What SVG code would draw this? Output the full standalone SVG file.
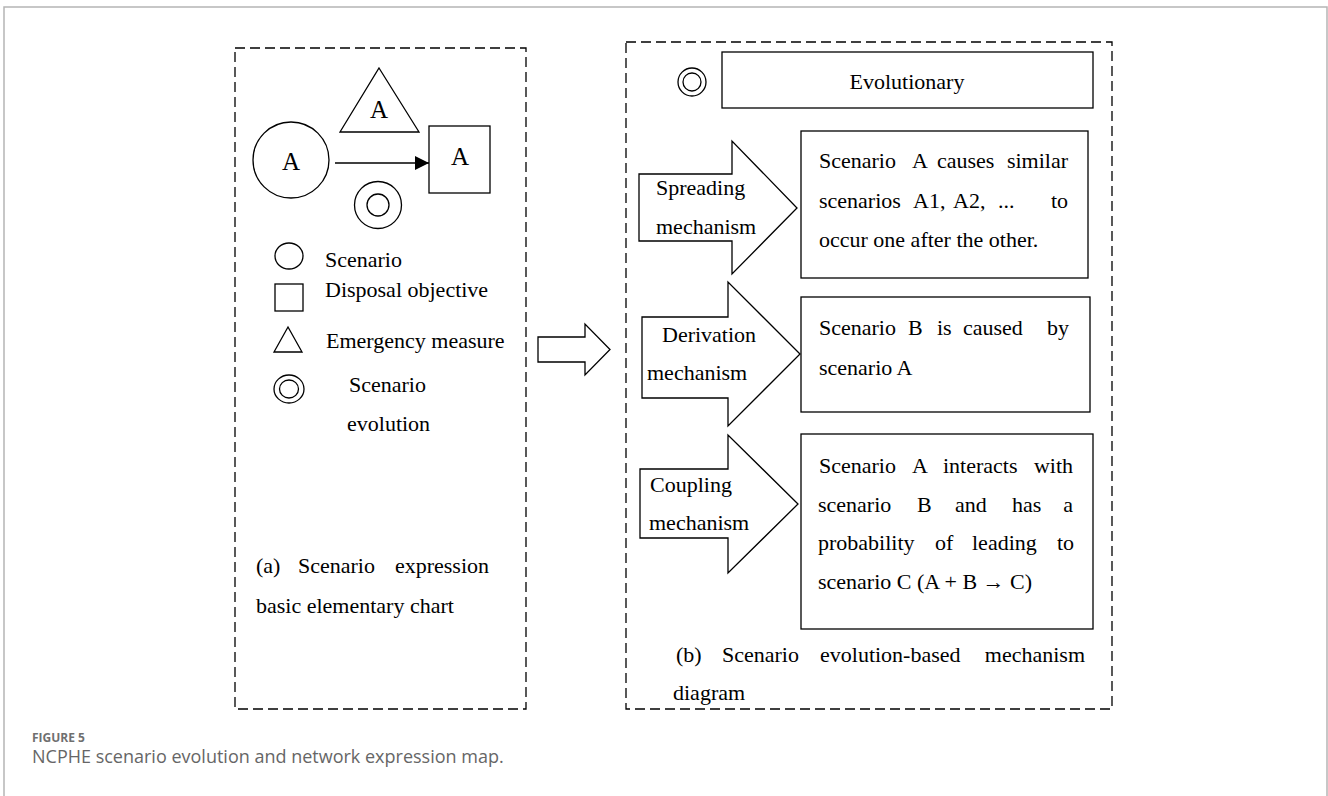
<svg xmlns="http://www.w3.org/2000/svg" width="1328" height="796" viewBox="0 0 1328 796">
  <style>
    .ln { fill: none; stroke: #000; stroke-width: 1.3; }
    .shape { fill: #fff; stroke: #000; stroke-width: 1.3; }
    .dash { fill: none; stroke: #000; stroke-width: 1.3; stroke-dasharray: 10 5; }
    .t { font-family: "Liberation Serif", "Times New Roman", serif; font-size: 22px; fill: #000; }
    .big { font-size: 25px; }
    .mid { text-anchor: middle; }
    .cap1 { font-family: "Open Sans", "Liberation Sans", sans-serif; font-size: 12px; font-weight: 700; fill: #6f6f6f; }
    .cap2 { font-family: "Open Sans", "Liberation Sans", sans-serif; font-size: 18px; fill: #666; }
  </style>
  <defs>
    <marker id="arrowhead" markerWidth="14" markerHeight="14" refX="14" refY="7" orient="auto" markerUnits="userSpaceOnUse">
      <path d="M0,0 L14,7 L0,14 Z" fill="#000"/>
    </marker>
  </defs>

  <rect width="1328" height="796" fill="#fff"/>

  <!-- card frame -->
  <path d="M4,796 V7 H1327 V796" fill="none" stroke="#b5b5b5" stroke-width="1.5"/>

  <!-- panel frames -->
  <rect id="panel-a" class="dash" x="235" y="48" width="291" height="661"/>
  <rect id="panel-b" class="dash" x="626" y="42" width="486" height="667"/>

  <!-- panel (a): elements -->
  <g id="scenario-node">
    <circle class="shape" cx="291" cy="160" r="38"/>
    <text class="t big mid" x="291" y="170">A</text>
  </g>
  <g id="measure-node">
    <polygon class="shape" points="379,68 419,132 340,132"/>
    <text class="t big mid" x="379" y="118">A</text>
  </g>
  <g id="objective-node">
    <rect class="shape" x="429" y="126" width="61" height="67"/>
    <text class="t big mid" x="460" y="165">A</text>
  </g>
  <g id="evolution-node">
    <circle class="shape" cx="378" cy="205" r="23.5"/>
    <circle class="shape" cx="378" cy="205" r="11"/>
  </g>

  <g id="connectors">
    <line class="ln" x1="335" y1="163" x2="429" y2="163" marker-end="url(#arrowhead)"/>
    <polygon id="panel-link" class="shape" points="538,337 585,337 585,324 610,349.5 585,375 585,362 538,362"/>
  </g>

  <!-- legend -->
  <g id="legend">
    <ellipse class="shape" cx="289" cy="256" rx="14" ry="13"/>
    <text class="t" x="325" y="267">Scenario</text>
    <rect class="shape" x="275" y="284" width="28" height="27"/>
    <text class="t" x="325" y="297">Disposal objective</text>
    <polygon class="shape" points="288,327 302,352 274,352"/>
    <text class="t" x="326" y="348">Emergency measure</text>
    <ellipse class="shape" cx="289" cy="389" rx="15" ry="14"/>
    <ellipse class="shape" cx="289" cy="389" rx="9.5" ry="9"/>
    <text class="t" x="349" y="392">Scenario</text>
    <text class="t" x="347" y="431">evolution</text>
  </g>

  <g id="caption-a">
    <text class="t" y="573"><tspan x="256">(a)</tspan><tspan x="298">Scenario</tspan><tspan x="489" text-anchor="end">expression</tspan></text>
    <text class="t" x="256" y="613">basic elementary chart</text>
  </g>

  <!-- panel (b) -->
  <g id="evolutionary">
    <circle class="shape" cx="692" cy="82" r="14"/>
    <circle class="shape" cx="692" cy="82" r="9"/>
    <rect class="shape" x="722" y="52" width="371" height="56"/>
    <text class="t mid" x="907" y="89">Evolutionary</text>
  </g>

  <g id="spreading">
    <polygon class="shape" points="639,174 732,174 732,141 797,208 732,274 732,241 639,241"/>
    <text class="t" x="656" y="195">Spreading</text>
    <text class="t" x="656" y="234">mechanism</text>
    <rect class="shape" x="801" y="131" width="287" height="147"/>
    <text class="t" y="168"><tspan x="819">Scenario</tspan><tspan x="912">A</tspan><tspan x="937">causes</tspan><tspan x="1068" text-anchor="end">similar</tspan></text>
    <text class="t" y="208"><tspan x="819">scenarios</tspan><tspan x="913">A1,</tspan><tspan x="953">A2,</tspan><tspan x="998">...</tspan><tspan x="1068" text-anchor="end">to</tspan></text>
    <text class="t" x="819" y="247">occur one after the other.</text>
  </g>

  <g id="derivation">
    <polygon class="shape" points="642,317 728,317 728,282 800,354 728,426 728,398 642,398"/>
    <text class="t" x="662" y="342">Derivation</text>
    <text class="t" x="647" y="380">mechanism</text>
    <rect class="shape" x="801" y="297" width="289" height="115"/>
    <text class="t" y="335"><tspan x="819">Scenario</tspan><tspan x="908">B</tspan><tspan x="937">is</tspan><tspan x="963">caused</tspan><tspan x="1069" text-anchor="end">by</tspan></text>
    <text class="t" x="819" y="375">scenario A</text>
  </g>

  <g id="coupling">
    <polygon class="shape" points="640,469 728,469 728,435 798,504 728,573 728,538 640,538"/>
    <text class="t" x="650" y="492">Coupling</text>
    <text class="t" x="649" y="530">mechanism</text>
    <rect class="shape" x="801" y="434" width="292" height="195"/>
    <text class="t" y="473"><tspan x="819">Scenario</tspan><tspan x="912">A</tspan><tspan x="943">interacts</tspan><tspan x="1073" text-anchor="end">with</tspan></text>
    <text class="t" y="512"><tspan x="818">scenario</tspan><tspan x="917">B</tspan><tspan x="955">and</tspan><tspan x="1012">has</tspan><tspan x="1073" text-anchor="end">a</tspan></text>
    <text class="t" y="550"><tspan x="818">probability</tspan><tspan x="935">of</tspan><tspan x="972">leading</tspan><tspan x="1074" text-anchor="end">to</tspan></text>
    <text class="t" x="818" y="589">scenario C (A + B → C)</text>
  </g>

  <g id="caption-b">
    <text class="t" y="662"><tspan x="676">(b)</tspan><tspan x="722">Scenario</tspan><tspan x="820">evolution-based</tspan><tspan x="1085" text-anchor="end">mechanism</tspan></text>
    <text class="t" x="673" y="700">diagram</text>
  </g>

  <!-- figure caption -->
  <text class="cap1" x="32" y="742">FIGURE 5</text>
  <text class="cap2" x="32" y="763">NCPHE scenario evolution and network expression map.</text>
</svg>
